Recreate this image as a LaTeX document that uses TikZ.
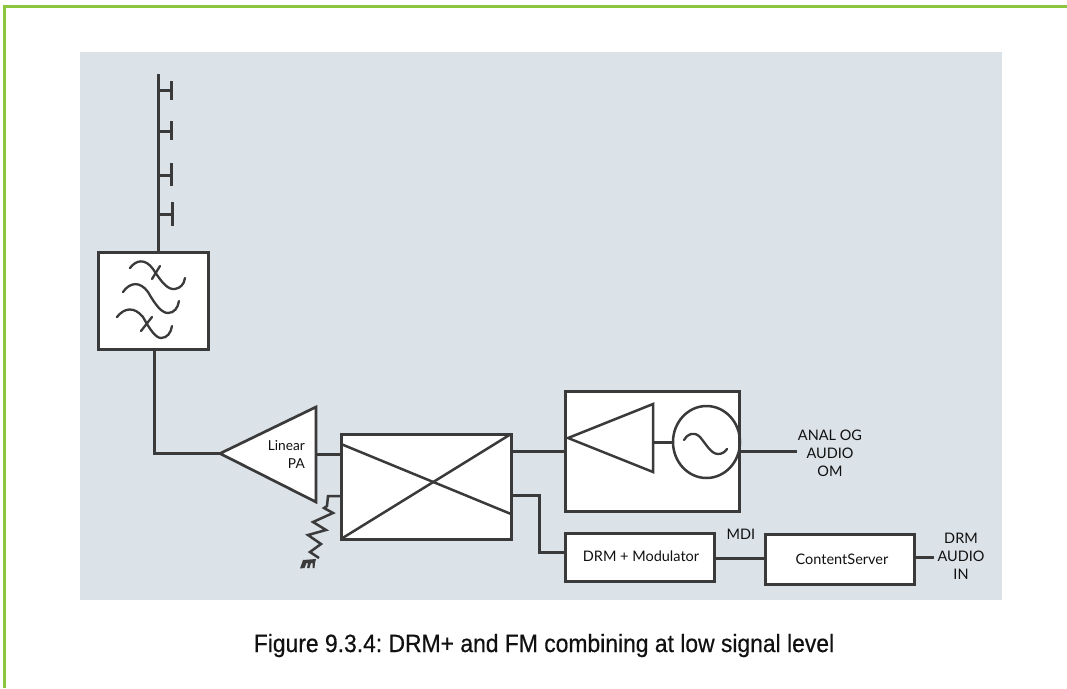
\documentclass[tikz,border=0pt]{standalone}
\usepackage{fontspec}
\usetikzlibrary{shapes.geometric}
\setmainfont{Lato}
\newfontfamily\capfont[FakeBold=0.5]{Liberation Sans}
\definecolor{panelc}{HTML}{DBE2E8}
\definecolor{greenc}{HTML}{8CC63F}
\definecolor{linec}{HTML}{3A3A3A}
\definecolor{textc}{HTML}{111111}
\tikzset{
  wire/.style={draw=linec,line width=2.9pt,line cap=butt,line join=miter},
  thin wire/.style={draw=linec,line width=2.3pt,line cap=round,line join=round},
  inner wire/.style={draw=linec,line width=2.5pt,line join=miter},
  block/.style={draw=linec,fill=white,line width=3pt,rectangle,outer sep=0pt,inner sep=0pt},
  shapeline/.style={draw=linec,fill=white,line width=2.7pt,line join=miter},
  lab/.style={font=\fontsize{14.5}{18.2}\selectfont,text=textc,inner sep=0pt,align=center},
  caption/.style={font=\capfont\frenchspacing\fontsize{25}{28}\selectfont,text=textc,inner sep=0pt,xscale=.915,anchor=base}
}
\begin{document}
\begin{tikzpicture}[x=1pt,y=-1pt]
\useasboundingbox (0,0) rectangle (1067,688);
\fill[white] (0,0) rectangle (1067,688);
\fill[greenc] (3,5) rectangle (1067,7.5);
\fill[greenc] (3,5) rectangle (6,688);
\fill[panelc] (80,52) rectangle (1002,600);

% blocks
\node[block,minimum width=109.5pt,minimum height=97pt] (filter) at (153.5,300.5) {};
\node[block,minimum width=170pt,minimum height=105pt] (cross) at (426,486.5) {};
\node[block,minimum width=174pt,minimum height=120pt] (om) at (652,451) {};
\node[block,minimum width=149pt,minimum height=48pt] (mod) at (639.5,557) {};
\node[block,minimum width=149pt,minimum height=50pt] (server) at (839.5,559) {};

% antenna
\coordinate (top) at (158.5,74);
\draw[wire] (top) -- (filter.north -| top);
\foreach \y/\a/\b/\e in {90.5/81/100/171.5,131.5/121/140/171.5,175.5/163/186/171.5,214.5/202/226/172.5}{
  \draw[wire] (158.5,\y) -- (\e,\y);
  \draw[wire] (\e,\a) -- (\e,\b);
}

% filter symbol
\draw[thin wire] (130,268) .. controls (136,260) and (145,258) .. (153,269) .. controls (162,283) and (168,290) .. (175,289) .. controls (180,288) and (184,285) .. (185,278);
\draw[thin wire] (123,292) .. controls (130,282) and (140,281) .. (148,292) .. controls (156,306) and (162,313) .. (168,313) .. controls (174,313) and (178,308) .. (179,301);
\draw[thin wire] (117,317) .. controls (124,308) and (134,306) .. (143,317) .. controls (150,330) and (156,338) .. (161,338) .. controls (167,338) and (171,333) .. (172,326);
\draw[thin wire] (160,266) -- (152,279);
\draw[thin wire] (152,317) -- (141,331);

% power amplifier
\coordinate (patip) at (220,453.5);
\coordinate (patop) at (316,407);
\coordinate (pabot) at (316,502);
\draw[shapeline] (patip) -- (patop) -- (pabot) -- cycle;
\node[lab,font=\fontsize{13.7}{18}\selectfont,align=right,anchor=east] (palabel) at (305,454) {Linear\\PA};
\draw[wire] (filter.south -| 154.5,0) -- (154.5,453.5) -- (patip);
\draw[wire] (patop |- 0,454.5) -- (cross.west |- 0,454.5);

% hybrid combiner
\draw[inner wire] (cross.west |- 0,444) -- (cross.east |- 0,514);
\draw[inner wire] (cross.south west) -- (cross.north east);

% resistor to ground
\coordinate (rtop) at (328,496);
\draw[inner wire] (cross.west |- rtop) -- (rtop) -- (327,506) -- (324,508) -- (333,513) -- (313,522) -- (326,530) -- (308,535) -- (321,544) -- (310,552) -- (319,558);
\fill[linec] (303,560) -- (316,559) -- (315,563) -- (314.5,568) -- (312.5,568) -- (312.5,563) -- (311,563) -- (309.5,568) -- (307,568) -- (308,563) -- (306.5,563) -- (304.5,568) -- (300,568.5) -- cycle;

% amplifier and oscillator in the OM block
\coordinate (amptip) at (568,438);
\coordinate (amptop) at (653,404);
\coordinate (ampbot) at (653,472);
\draw[inner wire] (amptip) -- (amptop) -- (ampbot) -- cycle;
\node[draw=linec,line width=2.5pt,ellipse,minimum width=67pt,minimum height=72pt,inner sep=0pt,outer sep=0pt] (osc) at (706.5,442) {};
\draw[wire] (amptop |- 0,442.5) -- (osc.west |- 0,442.5);
\draw[thin wire] (684,440) .. controls (687,434) and (694,431) .. (700,437) .. controls (706,444) and (711,454) .. (718,454) .. controls (722,454) and (725,452) .. (727,449);

% connectors
\draw[wire] (cross.east |- 0,451.5) -- (om.west |- 0,451.5);
\coordinate (omout) at (797,451.5);
\draw[wire] (om.east |- omout) -- (omout);
\draw[wire] (cross.east |- 0,495.5) -- (539.5,495.5) -- (539.5,552.5) -- (mod.west |- 0,552.5);
\draw[wire] (mod.east |- 0,558.5) -- (server.west |- 0,558.5);
\coordinate (audioin) at (934,557.5);
\draw[wire] (server.east |- audioin) -- (audioin);

% labels
\node[lab] (analog) at (830,453.5) {ANAL OG\\AUDIO\\OM};
\node[lab] (modlabel) at (641,556) {DRM + Modulator};
\node[lab] (serverlabel) at (842,559) {ContentServer};
\node[lab] (mdi) at (741,534) {MDI};
\node[lab] (drm) at (961,556) {DRM\\AUDIO\\IN};
\node[caption] (cap) at (544,652) {Figure 9.3.4: DRM+ and FM combining at low signal level};
\end{tikzpicture}
\end{document}
